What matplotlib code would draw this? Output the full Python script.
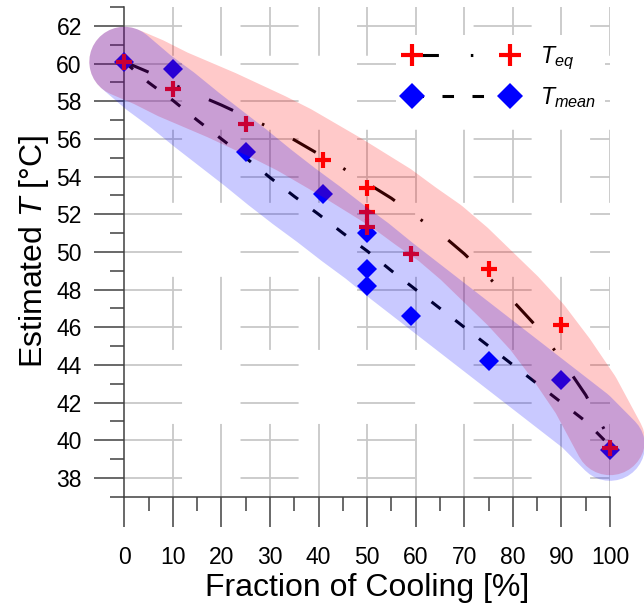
import matplotlib
matplotlib.use("Agg")
import matplotlib.pyplot as plt
from matplotlib.lines import Line2D
from matplotlib.ticker import MultipleLocator

plt.rcParams['font.family'] = ['Liberation Sans', 'DejaVu Sans']
plt.rcParams['mathtext.fontset'] = 'custom'
plt.rcParams['mathtext.rm'] = 'Liberation Sans'
plt.rcParams['mathtext.it'] = 'Liberation Sans:italic'
plt.rcParams['lines.scale_dashes'] = False

cooling_eq = [0, 10, 25, 41, 50, 50, 50, 59, 75, 90, 100]
t_eq = [60.1, 58.65, 56.8, 54.9, 53.4, 52.1, 51.3, 49.9, 49.1, 46.1, 39.6]
cooling_mean = [0, 10, 25, 41, 50, 50, 50, 59, 75, 90, 100]
t_mean = [60.1, 59.7, 55.3, 53.1, 51.0, 49.1, 48.2, 46.6, 44.2, 43.2, 39.5]

# trend curves
fit_cooling = [0, 5, 10, 15, 20, 25, 30, 35, 40, 45, 50,
               55, 60, 65, 70, 75, 80, 85, 90, 95, 100]
fit_eq = [60.1, 59.55, 58.9, 58.35, 57.8, 57.2, 56.6, 55.95, 55.2, 54.45, 53.65,
          52.85, 51.9, 51.0, 49.9, 48.65, 47.4, 46.0, 44.3, 42.4, 40.0]
fit_mean = [60.1, 59.0, 58.05, 57.0, 56.0, 55.0, 53.95, 52.95, 52.0, 51.0, 50.05,
            49.0, 48.0, 47.0, 46.0, 45.0, 44.0, 43.0, 42.0, 41.0, 39.7]

x_ticks = [0, 10, 20, 30, 40, 50, 60, 70, 80, 90, 100]
y_ticks = [38, 40, 42, 44, 46, 48, 50, 52, 54, 56, 58, 60, 62]
legend_labels = ['$T_{eq}$', '$T_{mean}$']

eq_dash = (0, (19, 23, 1.8, 23))
mean_dash = (0, (8.3, 13.3))
axis_grey = '#404040'
grid_grey = '#c8c8c8'

fig = plt.figure(figsize=(6.44, 6.08), dpi=100)
ax = fig.add_axes([0.193, 0.1831, 0.7542, 0.8051])
ax.set_xlim(0, 100)
ax.set_ylim(37, 63)

# the grid in the original is broken into long dashes
ax.hlines(y_ticks, 0, 100, colors=grid_grey, linewidth=1.3,
          linestyles=[(0, (41.8, 42.1))] * len(y_ticks), zorder=0.5)
ax.vlines(x_ticks[1:], 37, 63, colors=grid_grey, linewidth=1.3,
          linestyles=[(0, (52.6, 53.3))] * len(x_ticks[1:]), zorder=0.5)

# trend lines
ax.plot(fit_cooling, fit_eq, color='black', lw=2.2, linestyle=eq_dash,
        zorder=2, clip_on=False)
ax.plot(fit_cooling, fit_mean, color='black', lw=2.2, linestyle=mean_dash,
        zorder=2, clip_on=False)

# measured points
ax.plot(cooling_mean, t_mean, linestyle='none', marker='D', ms=10, mew=0,
        color='blue', zorder=3, clip_on=False)
ax.plot(cooling_eq, t_eq, linestyle='none', marker='+', ms=11.5, mew=3,
        color='red', zorder=3.1, clip_on=False)

# translucent bands drawn over everything
ax.plot(fit_cooling, fit_eq, color='red', alpha=0.21, lw=50.4,
        solid_capstyle='round', solid_joinstyle='round', zorder=4, clip_on=False)
ax.plot(fit_cooling, fit_mean, color='blue', alpha=0.21, lw=50.4,
        solid_capstyle='round', solid_joinstyle='round', zorder=4.5, clip_on=False)

for side in ['top', 'right']:
    ax.spines[side].set_visible(False)
for side in ['left', 'bottom']:
    ax.spines[side].set_color(axis_grey)
    ax.spines[side].set_linewidth(1.1)

ax.set_xticks(x_ticks)
ax.set_yticks(y_ticks)
ax.xaxis.set_minor_locator(MultipleLocator(5))
ax.yaxis.set_minor_locator(MultipleLocator(1))
ax.tick_params(which='major', direction='out', length=21.6, width=1.1,
               color=axis_grey, labelsize=16.5)
ax.tick_params(which='minor', direction='out', length=10.4, width=1.1,
               color=axis_grey)
ax.tick_params(axis='x', which='major', pad=14)
ax.tick_params(axis='y', which='major', pad=9)

ax.set_xlabel('Fraction of Cooling [%]', fontsize=23, labelpad=3)
ax.set_ylabel('Estimated $T$ [°C]', fontsize=23, labelpad=4)

h_eq = Line2D([], [], color='black', lw=2.2, linestyle=eq_dash,
              marker='+', ms=11.5, mew=3, mec='red')
h_mean = Line2D([], [], color='black', lw=2.2, linestyle=mean_dash,
                marker='D', ms=10, mew=0, mfc='blue')
ax.legend([h_eq, h_mean], legend_labels, loc='upper left',
          bbox_to_anchor=(0.5594, 0.9432), borderaxespad=0, numpoints=2,
          markerscale=1.35, handlelength=4.8, handletextpad=1.0, fontsize=16.7,
          frameon=True, fancybox=False, edgecolor='none', facecolor='white',
          framealpha=1, labelspacing=0.6, borderpad=0.4)

fig.savefig('out.png', dpi=100)
